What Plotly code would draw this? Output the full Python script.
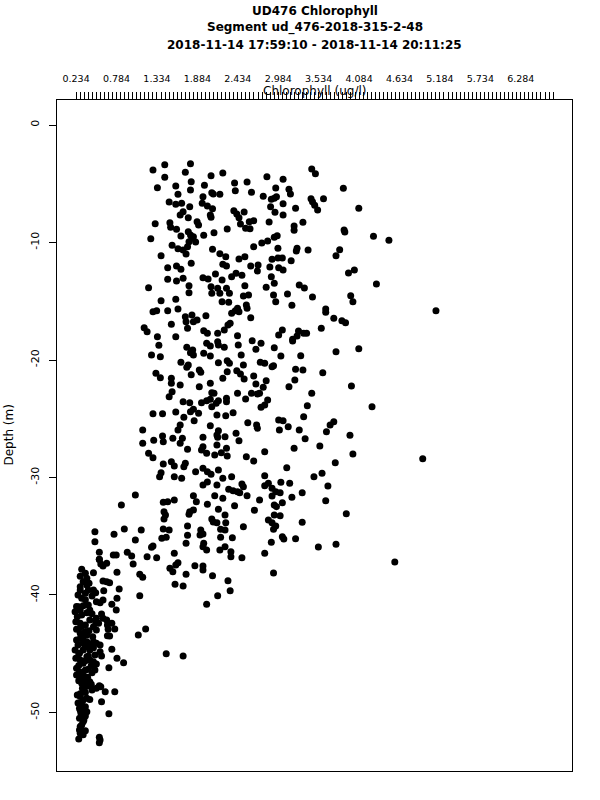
import plotly.graph_objects as go

# Chlorophyll (ug/l) and depth (m)
chlorophyll = [
1.28,1.44,1.79,1.72,1.44,2.07,2.23,2.83,3.05,3.44,3.49,1.34,1.59,1.80,1.79,1.98,1.62,1.96,2.08,2.10,
2.19,2.39,2.56,2.40,2.62,2.95,2.78,2.89,2.93,2.96,3.13,3.15,3.05,3.43,3.45,3.48,3.52,3.60,3.87,4.08,
1.50,1.59,1.67,1.78,1.95,2.02,2.09,1.65,1.69,1.76,2.06,2.07,2.38,2.42,2.45,2.52,2.88,2.94,3.05,3.22,
1.51,1.52,1.60,1.31,1.88,1.90,2.47,2.54,2.60,2.65,2.59,2.86,2.29,2.11,1.97,3.20,3.20,3.32,3.88,3.89,
4.28,4.49,1.25,1.66,1.76,1.79,1.81,1.77,1.83,1.86,1.54,1.62,1.69,1.73,1.75,2.09,2.19,2.27,2.65,2.76,
2.84,2.93,2.97,2.98,3.24,3.23,3.39,3.77,3.82,1.39,1.48,1.60,1.66,1.80,2.23,2.28,2.45,2.53,2.61,2.71,
2.70,2.87,2.90,2.98,3.04,2.99,3.05,3.16,3.94,4.02,1.48,1.60,1.69,1.96,2.03,2.13,2.22,2.35,2.41,2.49,
2.89,2.93,2.82,3.27,3.34,1.22,1.77,1.77,2.07,2.08,2.16,2.19,2.22,2.28,2.32,2.31,2.53,2.51,2.58,2.92,
2.95,3.11,3.45,3.97,4.00,4.32,5.13,1.39,1.59,1.28,1.33,1.48,1.62,1.72,1.81,1.88,1.73,1.83,2.00,2.35,
2.40,2.43,2.45,2.55,2.56,2.61,3.17,3.63,3.63,3.74,3.85,3.90,1.16,1.20,1.53,1.75,1.97,2.02,2.16,2.25,
2.30,2.33,3.04,2.99,3.26,3.24,3.37,3.57,1.34,1.59,2.43,3.18,
2.44,2.63,2.75,3.18,3.33,1.36,1.74,1.82,1.79,1.83,2.01,2.06,2.16,2.17,2.25,2.68,2.93,3.77,4.08,1.26,
1.38,1.97,2.06,2.48,3.02,3.29,1.66,1.76,1.74,2.17,2.29,2.32,2.51,2.74,2.80,2.92,2.90,1.32,1.38,1.80,
1.91,1.93,2.29,2.42,2.47,2.52,2.65,3.22,3.32,3.59,1.53,1.53,1.54,1.65,1.50,1.91,2.06,2.23,2.68,2.78,
2.82,3.21,3.13,3.98,2.08,2.11,2.43,2.62,2.70,2.73,3.44,1.69,1.78,1.83,1.79,1.90,1.94,2.01,2.06,2.08,
2.14,2.17,2.28,2.28,2.54,2.75,2.80,2.84,3.38,4.26,1.28,1.41,1.59,2.15,2.27,2.37,2.57,2.69,2.70,2.99,
3.05,3.33,1.70,1.65,1.62,1.84,2.06,1.14,2.17,2.15,2.41,2.45,3.00,3.12,3.27,3.69,3.74,3.64,3.96,1.14,
1.29,1.41,1.42,1.55,1.68,1.65,1.96,2.15,2.26,2.16,1.96,1.94,2.01,2.12,2.21,2.28,2.29,1.75,3.35,3.20,
3.55,1.22,1.28,2.80,2.55,2.65,4.00,4.95,1.42,1.53,1.57,1.70,1.72,1.39,1.37,1.57,1.67,1.86,1.96,2.02,
2.07,2.17,2.23,2.35,3.10,3.76,2.80,3.47,3.58,1.96,2.02,2.15,2.31,2.37,2.43,2.49,2.51,2.56,2.46,2.80,
2.85,2.90,2.95,3.01,3.02,3.14,3.66,1.04,1.83,1.87,2.12,2.23,2.39,2.73,2.90,3.17,3.31,3.63,1.42,1.48,
1.57,1.43,1.43,1.45,2.02,1.78,1.83,1.77,2.17,2.26,2.27,2.66,2.93,2.96,3.04,2.93,3.01,3.91,1.12,1.42,
1.50,1.75,1.75,2.08,2.10,2.15,1.93,1.96,2.20,2.26,2.51,2.85,2.90,2.95,2.92,3.31,1.40,1.46,1.04,1.73,
1.92,1.97,2.20,2.36,2.89,3.04,3.06,3.22,3.53,3.77,1.28,1.26,1.96,2.01,2.19,2.26,1.57,1.20,1.33,2.34,
2.49,2.80,
0.85,0.49,0.75,0.89,0.55,0.74,0.78,0.93,0.99,0.55,2.92,4.57,
0.49,2.34,0.55,0.57,0.60,0.65,1.01,0.31,0.47,0.36,0.38,0.33,0.38,0.41,0.79,1.10,1.14,1.51,1.55,1.59,
1.62,1.73,1.85,1.96,1.96,2.09,2.30,0.60,0.65,0.69,1.58,1.69,2.33,0.29,0.26,0.31,0.36,0.40,0.47,0.45,
0.51,0.56,0.60,0.61,0.82,0.79,0.78,0.72,1.10,2.01,2.16,0.24,0.22,0.25,0.29,0.31,0.38,0.42,0.40,0.33,
0.51,0.60,0.65,0.54,0.58,0.23,0.29,0.36,0.42,0.72,0.66,0.67,0.69,0.76,0.24,0.29,0.33,0.38,0.41,0.47,
0.51,0.46,0.66,1.08,1.18,0.24,0.26,0.33,0.38,0.42,0.47,0.51,0.56,0.22,0.28,0.33,0.42,0.49,0.56,0.58,
0.72,0.23,0.29,0.33,0.38,0.42,0.47,0.51,0.79,0.88,0.68,1.46,1.69,0.24,0.28,0.31,0.36,0.40,0.45,0.49,
0.24,0.29,0.33,0.39,0.42,0.37,0.31,0.32,0.36,0.40,0.45,0.51,0.55,0.57,0.25,0.63,0.76,0.58,0.29,0.33,
0.38,0.31,0.36,0.28,0.33,0.38,0.30,0.68,0.28,0.33,0.31,0.34,0.28,0.33,0.29,0.36,0.27,0.55,0.56,0.55,
0.27,0.45,0.50,0.30,0.36,0.29,0.36,0.47,0.27,0.40,0.36,0.27,0.44,0.34,0.27,0.44,0.36,0.29,0.42,0.26,
0.29,0.36,0.29,0.33,0.29,0.50,0.36,0.29,
]

depth = [
-3.83,-3.38,-3.29,-4.03,-4.45,-4.31,-4.09,-4.40,-4.62,-3.74,-4.14,-5.34,-5.19,-4.83,-5.53,-5.13,-5.90,-6.10,-5.76,-5.87,
-5.90,-4.94,-4.85,-5.59,-5.73,-5.36,-6.07,-6.32,-6.24,-6.10,-5.47,-5.87,-6.70,-6.27,-6.53,-6.83,-7.23,-6.27,-5.39,-7.09,
-6.55,-6.75,-6.66,-6.95,-6.66,-6.89,-7.12,-7.66,-7.38,-7.89,-7.66,-7.86,-7.29,-7.57,-7.89,-7.40,-6.95,-7.43,-7.66,-7.09,
-8.31,-8.71,-8.88,-8.40,-8.23,-8.51,-8.43,-8.79,-8.83,-8.14,-8.23,-8.26,-8.85,-9.17,-9.39,-8.60,-8.96,-8.28,-8.94,-9.11,
-9.47,-9.81,-9.68,-9.45,-9.08,-9.36,-9.64,-9.93,-9.51,-9.96,-10.24,-10.53,-10.64,-10.98,-10.36,-10.58,-10.95,-11.21,-10.36,-10.04,
-9.87,-9.56,-9.42,-10.49,-10.49,-10.72,-10.64,-11.12,-10.61,-11.12,-12.14,-12.00,-12.28,-11.77,-11.86,-12.00,-11.40,-11.21,-12.00,-11.91,
-12.43,-12.09,-11.43,-11.32,-11.32,-12.14,-12.34,-11.55,-12.60,-12.34,-13.13,-13.28,-13.05,-13.00,-13.11,-12.68,-13.19,-12.91,-12.62,-12.79,
-12.91,-13.47,-13.81,-13.62,-13.87,-13.85,-13.68,-14.27,-13.76,-14.32,-13.90,-14.32,-15.04,-13.90,-14.32,-15.09,-13.68,-14.55,-14.47,-14.47,
-15.04,-14.38,-14.64,-14.53,-15.04,-13.53,-15.80,-14.95,-14.83,-15.89,-15.80,-15.80,-15.66,-16.31,-16.17,-16.60,-16.74,-16.74,-16.23,-16.03,
-15.80,-15.60,-15.89,-15.32,-15.60,-16.40,-15.34,-15.66,-15.94,-16.45,-16.66,-16.83,-17.25,-17.59,-16.96,-17.30,-17.51,-17.73,-17.73,-17.45,
-17.02,-16.88,-17.45,-17.87,-17.53,-17.96,-17.73,-17.30,-18.02,-18.02,-17.93,-18.24,
-18.72,-18.36,-18.58,-18.38,-17.73,-18.75,-18.92,-19.15,-19.38,-19.57,-18.58,-18.81,-18.44,-18.72,-18.92,-19.09,-18.95,-19.29,-19.04,-19.57,
-19.72,-19.43,-19.66,-19.57,-19.66,-19.63,-20.20,-20.43,-20.62,-20.23,-20.06,-20.28,-20.43,-20.20,-20.28,-20.49,-20.57,-21.13,-21.51,-21.25,
-20.85,-21.05,-21.00,-20.91,-21.19,-21.62,-21.36,-20.79,-20.85,-21.08,-21.56,-21.98,-22.70,-22.13,-23.12,-22.27,-21.98,-21.56,-22.04,-22.32,
-21.76,-21.70,-22.27,-22.21,-22.78,-22.83,-22.83,-22.83,-22.89,-22.83,-22.83,-23.55,-23.63,-24.20,-24.40,-24.54,-23.63,-23.46,-23.34,-23.97,
-23.69,-23.46,-23.26,-23.55,-23.32,-24.03,-23.83,-23.40,-23.89,-23.97,-24.57,-24.57,-24.43,-24.68,-24.74,-24.49,-25.34,-25.53,-25.81,-25.11,
-25.17,-24.83,-24.88,-25.53,-25.96,-25.17,-25.59,-25.96,-26.02,-26.38,-26.24,-26.87,-25.96,-25.68,-25.96,-25.53,-25.25,-26.10,-26.41,-27.09,
-26.83,-26.47,-26.95,-26.66,-26.66,-27.09,-26.58,-27.23,-26.53,-26.58,-27.38,-27.66,-27.94,-28.09,-27.89,-27.51,-28.17,-27.60,-26.70,-27.51,
-27.32,-27.94,-28.31,-27.80,-28.23,-28.60,-28.00,-28.40,-28.85,-28.66,-29.02,-29.08,-28.79,-29.59,-29.93,-29.93,-30.07,-29.51,-29.22,-29.51,
-29.73,-29.36,-30.07,-29.93,-29.17,-28.74,-29.85,-29.93,-29.64,-30.64,-30.38,-30.64,-31.00,-31.12,-31.21,-30.55,-30.78,-31.55,-31.29,-30.70,
-30.49,-30.92,-31.21,-31.29,-30.41,-30.49,-30.72,-31.49,-31.55,-32.06,-31.55,-31.77,-32.40,-31.91,-31.57,-31.69,-31.29,-31.97,-32.11,-32.06,
-31.91,-32.91,-33.53,-33.19,-32.28,-32.91,-32.77,-33.13,-32.71,-33.19,-33.85,-32.79,-32.34,-32.48,-32.14,-33.19,-33.25,-33.08,-34.47,-34.38,
-34.47,-34.13,-34.92,-33.53,-33.79,-33.85,-34.47,-34.81,-34.41,-34.47,-34.19,-33.62,-33.85,-34.13,-34.41,-33.81,-35.17,-35.09,-35.32,-35.60,
-34.89,-35.60,-35.09,-35.12,-35.51,-35.04,-35.23,-35.21,-35.91,-35.69,-35.83,-35.94,-35.89,-36.17,-36.17,-35.89,-36.45,-36.74,-36.83,-36.31,
-36.83,-36.45,
-32.34,-34.61,-34.83,-34.38,-36.37,-36.60,-36.60,-36.37,-36.68,-36.96,-38.13,-37.19,
-35.46,-36.74,-36.98,-37.36,-37.53,-37.30,-37.36,-37.81,-38.10,-38.15,-38.58,-38.87,-39.15,-39.00,-38.07,-38.24,-38.49,-37.73,-38.02,-37.45,
-37.25,-38.24,-37.51,-37.53,-37.87,-38.36,-38.78,-38.81,-38.87,-38.95,-39.09,-39.23,-39.63,-39.57,-40.00,-40.28,-39.85,-39.57,-39.57,-40.09,
-40.57,-40.65,-40.43,-39.63,-39.49,-40.28,-41.28,-40.79,-40.06,-40.79,-40.06,-40.99,-41.42,-41.85,-41.28,-41.70,-41.51,-41.28,-40.85,-40.91,
-41.98,-41.98,-42.13,-42.41,-41.62,-42.27,-42.41,-42.55,-42.13,-42.41,-42.55,-42.92,-43.49,-42.89,-42.92,-43.26,-43.55,-43.40,-43.04,-42.70,
-42.98,-43.55,-43.47,-43.40,-42.89,-43.83,-44.26,-44.11,-43.97,-44.26,-43.97,-44.11,-44.26,-44.68,-44.96,-44.68,-44.68,-45.11,-44.83,-45.19,
-44.62,-45.39,-45.53,-45.81,-45.25,-45.53,-45.68,-45.87,-45.39,-45.76,-46.19,-45.00,-45.19,-46.24,-46.53,-46.66,-46.38,-46.32,-46.61,-46.38,
-46.81,-47.09,-47.23,-47.00,-47.38,-47.51,-47.51,-47.94,-47.80,-47.72,-48.09,-47.94,-47.72,-47.80,-48.51,-48.23,-48.23,-49.08,-48.65,-48.94,
-48.79,-49.36,-49.51,-49.64,-49.79,-49.93,-50.07,-50.10,-50.49,-50.78,-51.06,-50.64,-51.49,-51.63,-51.77,-51.55,-52.26,-52.11,-52.34,-52.57,
-41.00,-41.60,-42.30,-42.70,-43.10,-43.70,-44.40,-44.50,-45.00,-45.20,-45.60,-46.00,-46.00,-46.90,-47.30,-47.60,-48.30,-48.40,-48.90,-49.20,
-49.80,-50.30,-51.20,-51.90,-39.30,-39.80,-40.40,-38.40,
]

n = min(len(chlorophyll), len(depth))
chlorophyll = chlorophyll[:n]
depth = depth[:n]

x_tick_values = [0.234, 0.784, 1.334, 1.884, 2.434, 2.984, 3.534, 4.084, 4.634, 5.184, 5.734, 6.284]
x_tick_labels = ["0.234", "0.784", "1.334", "1.884", "2.434", "2.984", "3.534", "4.084", "4.634", "5.184", "5.734", "6.284"]
x_minor_step = 0.055
x_minor_values = [round(0.234 + i * x_minor_step, 4) for i in range(119)]
y_tick_values = [0, -10, -20, -30, -40, -50]
y_tick_labels = ["0", "-10", "-20", "-30", "-40", "-50"]

title_lines = ["UD476 Chlorophyll", "Segment ud_476-2018-315-2-48",
               "2018-11-14 17:59:10 - 2018-11-14 20:11:25"]
title_centers_px = [10.5, 27.5, 44.5]   # distance of each title line from the top edge

FONT = "DejaVu Sans, Verdana, sans-serif"
TOP = 100

fig = go.Figure()
fig.add_trace(go.Scatter(
    x=chlorophyll, y=depth, mode="markers",
    marker=dict(color="black", size=7, line=dict(width=0)),
    hoverinfo="skip", showlegend=False,
))

annotations = []
for line, yc in zip(title_lines, title_centers_px):
    annotations.append(dict(
        text="<b>" + line + "</b>", xref="paper", yref="paper", x=0.5, y=1,
        yshift=TOP - yc, yanchor="middle", xanchor="center", showarrow=False,
        font=dict(family=FONT, size=12, color="black")))
annotations.append(dict(
    text="Chlorophyll (ug/l)", xref="paper", yref="paper", x=0.5, y=1,
    yshift=9, yanchor="middle", showarrow=False,
    font=dict(family=FONT, size=12, color="black")))
annotations.append(dict(
    text="Depth (m)", xref="paper", yref="paper", x=0, y=0.5,
    xshift=-49, textangle=-90, xanchor="center", yanchor="middle", showarrow=False,
    font=dict(family=FONT, size=12, color="black")))

fig.update_layout(
    width=600, height=800,
    margin=dict(l=57, r=28, t=TOP, b=29),
    paper_bgcolor="white", plot_bgcolor="white",
    font=dict(family=FONT, size=12, color="black"),
    showlegend=False,
    xaxis=dict(
        side="top", range=[-0.026, 6.981], showgrid=False, zeroline=False,
        showline=True, linecolor="black", linewidth=1, mirror=True,
        tickmode="array", tickvals=x_tick_values, ticktext=x_tick_labels,
        ticks="outside", ticklen=7, tickwidth=1, tickcolor="black",
        ticklabelstandoff=6,
        tickfont=dict(family=FONT, size=9.5, color="black"),
        minor=dict(tickmode="array", tickvals=x_minor_values, ticks="outside",
                   ticklen=7, tickwidth=1, tickcolor="black", showgrid=False),
    ),
    yaxis=dict(
        range=[-54.98, 2.128], showgrid=False, zeroline=False,
        showline=True, linecolor="black", linewidth=1, mirror=True,
        tickmode="array", tickvals=y_tick_values, ticktext=y_tick_labels,
        ticks="outside", ticklen=7, tickwidth=1, tickcolor="black",
        tickangle=-90, ticklabelstandoff=6,
        tickfont=dict(family=FONT, size=11, color="black"),
    ),
    annotations=annotations,
)

fig.write_html("out.html", config={"displayModeBar": False, "staticPlot": True},
               post_script="document.body.style.margin='0px';document.body.style.overflow='hidden';")
